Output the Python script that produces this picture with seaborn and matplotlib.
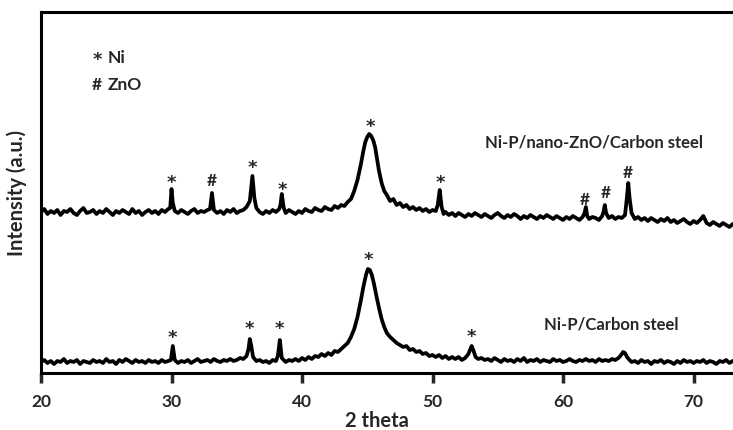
import matplotlib
matplotlib.use('Agg')
import matplotlib.pyplot as plt
import seaborn as sns
import pandas as pd

# Ni-P/nano-ZnO/Carbon steel (upper pattern, offset)
zno_theta = [20.0, 20.25, 20.5, 20.75, 21.0, 21.25, 21.5, 21.75, 22.0, 22.25, 22.5, 22.75,
             23.0, 23.25, 23.5, 23.75, 24.0, 24.25, 24.5, 24.75, 25.0, 25.25, 25.5, 25.75,
             26.0, 26.25, 26.5, 26.75, 27.0, 27.25, 27.5, 27.75, 28.0, 28.25, 28.5, 28.75,
             29.0, 29.25, 29.5, 29.75,
             29.9, 30.0, 30.1, 30.25,
             30.5, 30.75, 31.0, 31.25, 31.5, 31.75, 32.0, 32.25, 32.5, 32.75,
             32.95, 33.1, 33.25,
             33.5, 33.75, 34.0, 34.25, 34.5, 34.75, 35.0, 35.25, 35.5, 35.75,
             36.0, 36.2, 36.35, 36.5,
             36.75, 37.0, 37.25, 37.5, 37.75, 38.0, 38.25,
             38.35, 38.45, 38.6,
             38.75, 39.0, 39.25, 39.5, 39.75, 40.0, 40.25, 40.5, 40.75, 41.0, 41.25, 41.5,
             41.75, 42.0, 42.25, 42.5, 42.75, 43.0, 43.25, 43.5,
             43.75, 44.0, 44.25, 44.5, 44.7, 44.85, 45.0, 45.15, 45.3, 45.45, 45.6, 45.75,
             45.9, 46.1, 46.3, 46.5, 46.75, 47.0, 47.25, 47.5, 47.75, 48.0, 48.25, 48.5,
             48.75, 49.0, 49.25, 49.5, 49.75, 50.0, 50.25, 50.4, 50.55, 50.7, 50.85,
             51.0, 51.25, 51.5, 51.75, 52.0, 52.25, 52.5, 52.75, 53.0, 53.25, 53.5, 53.75,
             54.0, 54.25, 54.5, 54.75, 55.0, 55.25, 55.5, 55.75, 56.0, 56.25, 56.5, 56.75,
             57.0, 57.25, 57.5, 57.75, 58.0, 58.25, 58.5, 58.75, 59.0, 59.25, 59.5, 59.75,
             60.0, 60.25, 60.5, 60.75, 61.0, 61.25, 61.5,
             61.65, 61.75, 61.85,
             62.0, 62.25, 62.5, 62.75, 63.0,
             63.1, 63.2, 63.3,
             63.5, 63.75, 64.0, 64.25, 64.5, 64.75,
             64.85, 65.0, 65.1, 65.25,
             65.5, 65.75, 66.0, 66.25, 66.5, 66.75, 67.0, 67.25, 67.5, 67.75, 68.0, 68.25,
             68.5, 68.75, 69.0, 69.25, 69.5, 69.75, 70.0, 70.25, 70.5, 70.75, 71.0, 71.25,
             71.5, 71.75, 72.0, 72.25, 72.5, 72.75, 73.0, 73.25, 73.5]
zno_int = [161, 164, 159, 162, 160, 163, 158, 162, 161, 164, 160, 158,
           162, 165, 160, 161, 163, 159, 162, 160, 164, 161, 158, 162,
           160, 163, 161, 159, 164, 160, 162, 158, 161, 163, 160, 162,
           159, 163, 161, 164,
           165, 184, 170, 162,
           160, 163, 161, 159, 162, 164, 160, 162, 161, 163,
           164, 180, 163,
           160, 162, 159, 163, 161, 164, 160, 162, 163, 166,
           172, 197, 175, 165,
           161, 159, 162, 160, 163, 161, 164,
           168, 179, 165,
           160, 163, 161, 159, 162, 160, 164, 162, 161, 165, 163, 162,
           166, 164, 163, 167, 165, 168, 167, 171,
           174, 182, 193, 208, 222, 231, 236, 239, 237, 233, 226, 214,
           202, 190, 182, 178, 172, 174, 168, 170, 166, 168, 164, 166,
           163, 165, 162, 164, 161, 163, 162, 168, 183, 166, 159,
           161, 158, 160, 157, 160, 158, 156, 159, 157, 160, 158, 156,
           159, 157, 155, 158, 160, 157, 155, 158, 156, 159, 157, 154,
           157, 155, 158, 156, 154, 157, 155, 158, 156, 154, 157, 155,
           153, 156, 154, 157, 155, 153, 156,
           160, 166, 157,
           154, 156, 155, 153, 157,
           161, 168, 160,
           155, 157, 154, 156, 155, 158,
           170, 190, 175, 160,
           154, 156, 153, 155, 152, 155, 153, 151, 154, 152, 155, 151,
           153, 150, 152, 154, 151, 149, 152, 150, 153, 157, 150, 148,
           151, 149, 147, 150, 148, 146, 149, 147, 146]

# Ni-P/Carbon steel (lower pattern)
nip_theta = [20.0, 20.25, 20.5, 20.75, 21.0, 21.25, 21.5, 21.75, 22.0, 22.25, 22.5, 22.75,
             23.0, 23.25, 23.5, 23.75, 24.0, 24.25, 24.5, 24.75, 25.0, 25.25, 25.5, 25.75,
             26.0, 26.25, 26.5, 26.75, 27.0, 27.25, 27.5, 27.75, 28.0, 28.25, 28.5, 28.75,
             29.0, 29.25, 29.5, 29.75,
             29.95, 30.1, 30.25,
             30.5, 30.75, 31.0, 31.25, 31.5, 31.75, 32.0, 32.25, 32.5, 32.75, 33.0, 33.25,
             33.5, 33.75, 34.0, 34.25, 34.5, 34.75, 35.0, 35.25, 35.5,
             35.75, 35.9, 36.0, 36.1, 36.25,
             36.5, 36.75, 37.0, 37.25, 37.5, 37.75, 38.0,
             38.15, 38.3, 38.45,
             38.75, 39.0, 39.25, 39.5, 39.75, 40.0, 40.25, 40.5, 40.75, 41.0, 41.25, 41.5,
             41.75, 42.0, 42.25, 42.5, 42.75,
             43.0, 43.25, 43.5, 43.75, 44.0, 44.25, 44.5, 44.7, 44.9, 45.05, 45.2, 45.35,
             45.5, 45.7, 45.9, 46.1, 46.3, 46.5, 46.75, 47.0, 47.25, 47.5, 47.75, 48.0,
             48.25, 48.5, 48.75, 49.0, 49.25, 49.5, 49.75, 50.0, 50.25, 50.5, 50.75, 51.0,
             51.25, 51.5, 51.75, 52.0, 52.25, 52.5, 52.75, 52.9, 53.0, 53.15, 53.3, 53.5,
             53.75, 54.0, 54.25, 54.5, 54.75, 55.0, 55.25, 55.5, 55.75, 56.0, 56.25, 56.5,
             56.75, 57.0, 57.25, 57.5, 57.75, 58.0, 58.25, 58.5, 58.75, 59.0, 59.25, 59.5,
             59.75, 60.0, 60.25, 60.5, 60.75, 61.0, 61.25, 61.5, 61.75, 62.0, 62.25, 62.5,
             62.75, 63.0, 63.25, 63.5, 63.75, 64.0,
             64.25, 64.45, 64.6, 64.75, 64.9, 65.1,
             65.25, 65.5, 65.75, 66.0, 66.25, 66.5, 66.75, 67.0, 67.25, 67.5, 67.75, 68.0,
             68.25, 68.5, 68.75, 69.0, 69.25, 69.5, 69.75, 70.0, 70.25, 70.5, 70.75, 71.0,
             71.25, 71.5, 71.75, 72.0, 72.25, 72.5, 72.75, 73.0, 73.25, 73.5]
nip_int = [11, 13, 10, 12, 9, 12, 11, 14, 10, 12, 11, 13,
           9, 12, 11, 10, 13, 11, 12, 10, 14, 11, 12, 9,
           13, 11, 14, 12, 10, 13, 11, 12, 10, 13, 11, 12,
           10, 13, 11, 12,
           13, 27, 13,
           10, 12, 11, 13, 10, 12, 14, 11, 12, 13, 11, 14,
           12, 11, 13, 12, 14, 12, 13, 15, 14,
           17, 24, 34, 28, 16,
           12, 13, 11, 12, 10, 13, 12,
           17, 33, 15,
           11, 13, 12, 14, 12, 15, 13, 16, 14, 17, 16, 19,
           17, 20, 18, 22, 21,
           24, 27, 30, 36, 44, 56, 72, 86, 98, 104, 103, 98,
           90, 77, 65, 54, 46, 40, 36, 33, 30, 28, 26, 27,
           23, 24, 21, 22, 19, 20, 17, 18, 16, 18, 15, 17,
           14, 16, 14, 16, 13, 15, 19, 24, 27, 22, 16, 14,
           15, 13, 14, 12, 15, 13, 11, 14, 12, 13, 11, 14,
           12, 15, 11, 13, 12, 14, 11, 13, 12, 11, 14, 12,
           13, 11, 12, 14, 12, 11, 13, 12, 14, 12, 13, 11,
           14, 12, 13, 12, 14, 13,
           15, 18, 21, 20, 16, 13,
           11, 12, 10, 13, 11, 12, 9, 12, 11, 13, 10, 12,
           11, 9, 12, 10, 13, 11, 12, 10, 12, 11, 13, 10,
           12, 11, 9, 12, 11, 13, 10, 12, 11, 12]

# peak markers: (theta, height, symbol)
zno_marks = [(30.0, 192, '*'), (33.1, 192, '#'), (36.2, 207, '*'), (38.5, 185, '*'),
             (45.2, 248, '*'), (50.6, 192, '*'), (61.7, 173, '#'), (63.3, 180, '#'),
             (65.0, 200, '#')]
nip_marks = [(30.1, 37, '*'), (36.0, 46, '*'), (38.3, 46, '*'), (45.1, 115, '*'),
             (53.0, 38, '*')]

sns.set_style('white')
plt.rcParams['font.family'] = ['Lato', 'DejaVu Sans']
plt.rcParams['font.weight'] = 'bold'

df = pd.concat([
    pd.DataFrame({'theta': zno_theta, 'intensity': zno_int, 'sample': 'Ni-P/nano-ZnO/Carbon steel'}),
    pd.DataFrame({'theta': nip_theta, 'intensity': nip_int, 'sample': 'Ni-P/Carbon steel'}),
])

fig = plt.figure(figsize=(7.33, 4.30), dpi=100)
ax = fig.add_axes([41 / 733, 57 / 430, 699 / 733, 361 / 430])
for name, grp in df.groupby('sample', sort=False):
    sns.lineplot(data=grp, x='theta', y='intensity', ax=ax, color='black', lw=2.7,
                 estimator=None, sort=False, legend=False)

star_font = ['DejaVu Sans']
for x, y, s in zno_marks + nip_marks:
    if s == '*':
        ax.text(x, y - 2, s, ha='center', va='center', fontsize=13, fontweight='bold',
                family=star_font)
    else:
        ax.text(x, y, s, ha='center', va='center', fontsize=12.5, fontweight='bold')

ax.text(62.4, 231, 'Ni-P/nano-ZnO/Carbon steel', ha='center', va='center', fontsize=12, fontweight='bold')
ax.text(63.7, 49, 'Ni-P/Carbon steel', ha='center', va='center', fontsize=12, fontweight='bold')
ax.text(24.3, 313, '*', ha='center', va='center', fontsize=13, fontweight='bold', family=star_font)
ax.text(25.1, 315, 'Ni', ha='left', va='center', fontsize=12.5, fontweight='bold')
ax.text(24.3, 288, '#', ha='center', va='center', fontsize=12.5, fontweight='bold')
ax.text(25.1, 288, 'ZnO', ha='left', va='center', fontsize=12.5, fontweight='bold')

ax.set_xlim(20, 73.56)
ax.set_ylim(0, 361)
ax.set_xticks([20, 30, 40, 50, 60, 70])
ax.set_yticks([])
ax.set_xlabel('2 theta', fontsize=14.5, fontweight='bold')
ax.xaxis.set_label_coords(0.48, -0.105)
ax.set_ylabel('Intensity (a.u.)', fontsize=14.5, fontweight='bold')
ax.yaxis.set_label_coords(-0.02, 0.5)
ax.tick_params(axis='x', direction='out', length=7, width=2.5, labelsize=12.5, pad=8,
               bottom=True)
for side in ['left', 'bottom', 'top', 'right']:
    ax.spines[side].set_linewidth(2.2)
    ax.spines[side].set_color('black')

fig.savefig('out.png', dpi=100)
